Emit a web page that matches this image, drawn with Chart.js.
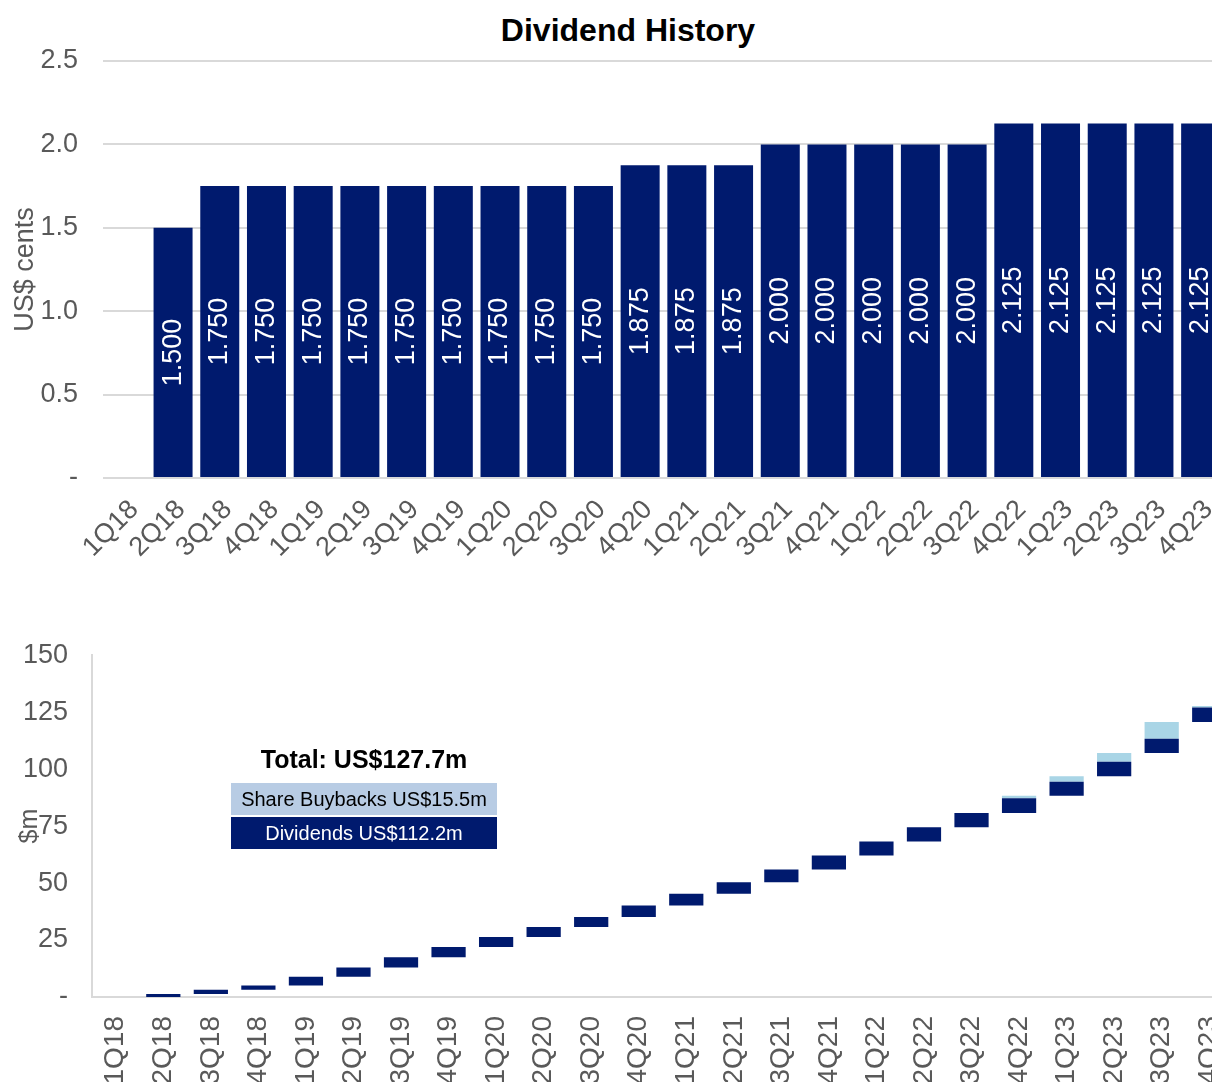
<!DOCTYPE html>
<html lang="en">
<head>
    <meta charset="UTF-8">
    <title>Dividend History</title>
    <script src="https://cdn.jsdelivr.net/npm/chart.js"></script>
    <style>
        html, body { margin: 0; padding: 0; background: #fff; }
        body { width: 1212px; height: 1082px; overflow: hidden; position: relative; font-family: "Liberation Sans", Arial, sans-serif; }
        canvas { position: absolute; left: 0; }
        #topChart { top: 0; }
        #bottomChart { top: 615px; }
        .title { position: absolute; top: 11px; left: 0; width: 1256px; text-align: center; font-weight: bold; font-size: 32px; line-height: 38px; color: #000; }
        .total { position: absolute; left: 231px; width: 266px; top: 743px; text-align: center; font-weight: bold; font-size: 25px; line-height: 32px; color: #000; }
        .box { position: absolute; left: 231px; width: 266px; height: 32px; line-height: 32px; text-align: center; font-size: 20px; font-family: "Liberation Sans Narrow", "Liberation Sans", Arial, sans-serif; }
        .buy { top: 783px; background: #b8cce4; color: #000; }
        .div { top: 817px; background: #001a6e; color: #fff; }
    </style>
</head>
<body>
    <div class="title">Dividend History</div>
    <canvas id="topChart" width="1254" height="600"></canvas>
    <canvas id="bottomChart" width="1261" height="480"></canvas>
    <div class="total">Total: US$127.7m</div>
    <div class="box buy">Share Buybacks US$15.5m</div>
    <div class="box div">Dividends US$112.2m</div>
    <script>
        const quarters = ['1Q18', '2Q18', '3Q18', '4Q18', '1Q19', '2Q19', '3Q19', '4Q19',
            '1Q20', '2Q20', '3Q20', '4Q20', '1Q21', '2Q21', '3Q21', '4Q21',
            '1Q22', '2Q22', '3Q22', '4Q22', '1Q23', '2Q23', '3Q23', '4Q23'];
        // dividend per share, US cents
        const dpsCents = [null, 1.5, 1.75, 1.75, 1.75, 1.75, 1.75, 1.75, 1.75, 1.75, 1.75,
            1.875, 1.875, 1.875, 2.0, 2.0, 2.0, 2.0, 2.0, 2.125, 2.125, 2.125, 2.125, 2.125];
        // amounts returned each quarter, US$m
        const dividendsPaid = [null, 1.3, 1.9, 1.9, 3.8, 4.0, 4.5, 4.5, 4.4, 4.4, 4.4,
            5.1, 5.1, 5.1, 5.5, 6.2, 6.1, 6.3, 6.3, 6.4, 6.2, 6.3, 6.2, 6.3];
        const buybacks = [null, null, null, null, null, null, null, null, null, null, null, null,
            null, null, null, null, null, null, null, 1.1, 2.4, 3.9, 7.4, 0.7];
        const dpsTicks = [0, 0.5, 1.0, 1.5, 2.0, 2.5];
        const cumTicks = [0, 25, 50, 75, 100, 125, 150];

        const NAVY = '#001a6e';
        const LIGHT = '#a9d5e6';
        const GREY = '#595959';
        const GRID = '#d9d9d9';
        const FONT = '"Liberation Sans", Arial, sans-serif';

        Chart.defaults.font.family = FONT;
        Chart.defaults.color = GREY;

        const barLabels = {
            id: 'barLabels',
            afterDatasetsDraw(chart) {
                const ctx = chart.ctx;
                const meta = chart.getDatasetMeta(0);
                ctx.save();
                ctx.fillStyle = '#fff';
                ctx.font = '27px ' + FONT;
                ctx.textAlign = 'center';
                ctx.textBaseline = 'middle';
                meta.data.forEach((bar, i) => {
                    const v = dpsCents[i];
                    if (v == null) return;
                    ctx.save();
                    ctx.translate(bar.x, (bar.y + bar.base) / 2);
                    ctx.rotate(-Math.PI / 2);
                    ctx.fillText(v.toFixed(3), 0, 0);
                    ctx.restore();
                });
                ctx.restore();
            }
        };

        new Chart(document.getElementById('topChart'), {
            type: 'bar',
            data: {
                labels: quarters,
                datasets: [{
                    data: dpsCents,
                    backgroundColor: NAVY,
                    barPercentage: 0.835,
                    categoryPercentage: 1
                }]
            },
            options: {
                responsive: false,
                animation: false,
                layout: { padding: { top: 61, right: 30, bottom: 0, left: 0 } },
                plugins: { legend: { display: false }, tooltip: { enabled: false } },
                scales: {
                    x: {
                        grid: { display: false },
                        border: { display: false },
                        ticks: { autoSkip: false, maxRotation: 45, minRotation: 45, padding: 8, labelOffset: 8, font: { size: 27 } },
                        afterFit: s => { s.height = 122; }
                    },
                    y: {
                        min: 0,
                        max: 2.5,
                        afterBuildTicks: s => { s.ticks = dpsTicks.map(v => ({ value: v })); },
                        grid: { color: GRID, lineWidth: 2, drawTicks: false },
                        border: { display: false },
                        ticks: {
                            padding: 25,
                            font: { size: 27 },
                            callback: v => v === 0 ? '-' : v.toFixed(1)
                        },
                        title: { display: true, text: 'US$ cents', font: { size: 27 }, padding: { top: 9, bottom: 0 } },
                        afterFit: s => { s.width = 103; }
                    }
                }
            },
            plugins: [barLabels]
        });

        // floating bars for the cumulative chart
        let running = 0;
        const divBars = [];
        const buyBars = [];
        quarters.forEach((q, i) => {
            const d = dividendsPaid[i] || 0;
            divBars.push(dividendsPaid[i] == null ? null : [running, running + d]);
            running += d;
            const b = buybacks[i] || 0;
            buyBars.push(buybacks[i] == null ? null : [running, running + b]);
            running += b;
        });

        new Chart(document.getElementById('bottomChart'), {
            type: 'bar',
            data: {
                labels: quarters,
                datasets: [{
                    label: 'Dividends',
                    data: divBars,
                    backgroundColor: NAVY,
                    grouped: false,
                    barPercentage: 0.72,
                    categoryPercentage: 1
                }, {
                    label: 'Share Buybacks',
                    data: buyBars,
                    backgroundColor: LIGHT,
                    grouped: false,
                    barPercentage: 0.72,
                    categoryPercentage: 1
                }]
            },
            options: {
                responsive: false,
                animation: false,
                layout: { padding: { top: 0, right: 28, bottom: 0, left: 0 } },
                plugins: { legend: { display: false }, tooltip: { enabled: false } },
                scales: {
                    x: {
                        grid: { display: false },
                        border: { display: true, color: GRID, width: 2 },
                        ticks: { autoSkip: false, maxRotation: 90, minRotation: 90, padding: 11, font: { size: 28 } },
                        afterFit: s => { s.height = 98; }
                    },
                    y: {
                        min: 0,
                        max: 150,
                        afterBuildTicks: s => { s.ticks = cumTicks.map(v => ({ value: v })); },
                        grid: { display: false, drawTicks: false },
                        border: { display: true, color: GRID, width: 2 },
                        ticks: {
                            padding: 24,
                            font: { size: 27 },
                            callback: v => v === 0 ? '-' : v
                        },
                        title: { display: true, text: '$m', font: { size: 25 }, padding: { top: 15, bottom: 0 } },
                        afterFit: s => { s.width = 92; }
                    }
                }
            }
        });
    </script>
</body>
</html>
